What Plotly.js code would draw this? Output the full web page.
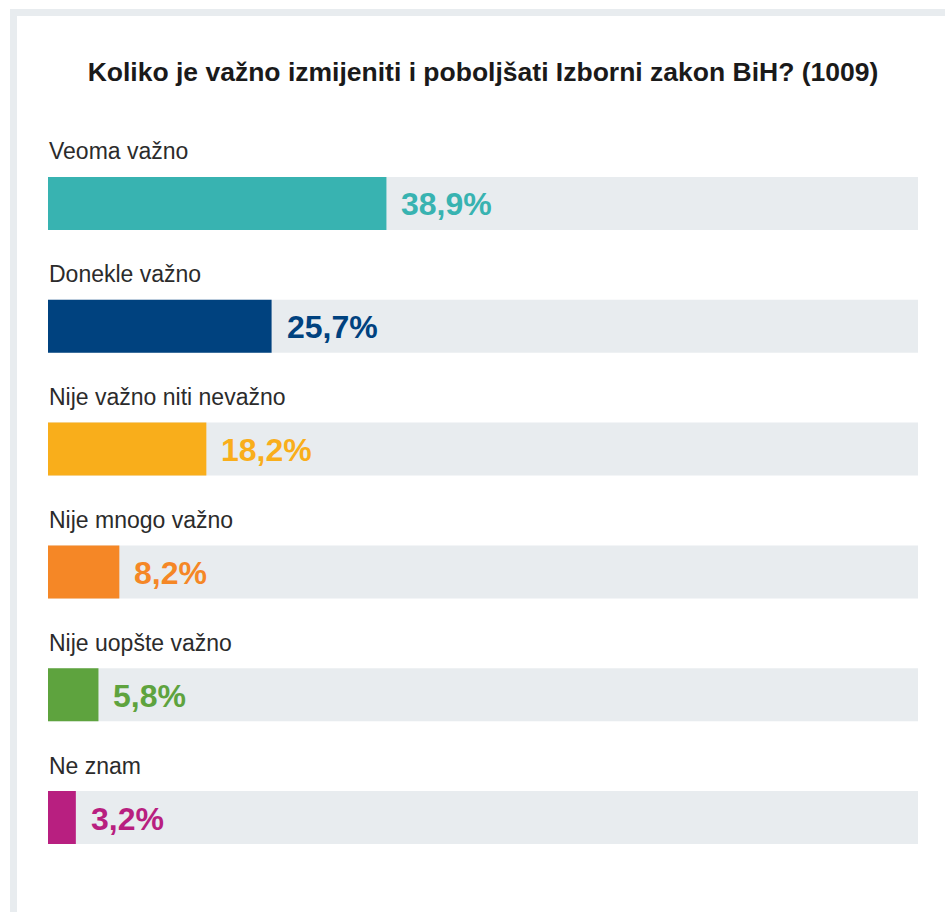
<!DOCTYPE html>
<html>
<head>
<meta charset="utf-8">
<script src="https://cdn.plot.ly/plotly-3.0.1.min.js"></script>
<style>
  html, body { margin: 0; padding: 0; background: #ffffff; }
  #frame { position: absolute; left: 10px; top: 9px; width: 935px; height: 903px;
           border-top: 7px solid #e8ecef; border-left: 7px solid #e8ecef; box-sizing: border-box; }
  #chart { position: absolute; left: 0; top: 0; width: 945px; height: 912px; }
</style>
</head>
<body>
<div id="frame"></div>
<div id="chart"></div>
<script>
const categories = ["Veoma važno", "Donekle važno", "Nije važno niti nevažno", "Nije mnogo važno", "Nije uopšte važno", "Ne znam"];
const values = [38.9, 25.7, 18.2, 8.2, 5.8, 3.2];
const valueLabels = ["38,9%", "25,7%", "18,2%", "8,2%", "5,8%", "3,2%"];
const colors = ["#38b3b1", "#00427f", "#f9ae1b", "#f58726", "#5ea33e", "#b81f80"];
const trackMax = 100;
const titleText = "Koliko je važno izmijeniti i poboljšati Izborni zakon BiH? (1009)";

const track = {
  type: "bar", orientation: "h",
  y: categories, x: categories.map(() => trackMax),
  marker: { color: "#e8ecef" }, width: 0.431,
  hoverinfo: "skip", showlegend: false
};
const bars = {
  type: "bar", orientation: "h",
  y: categories, x: values,
  marker: { color: colors }, width: 0.431,
  hoverinfo: "skip", showlegend: false
};

const annotations = [];
categories.forEach((c, i) => {
  annotations.push({
    x: 0, y: c, xref: "x", yref: "y", text: c, showarrow: false,
    xanchor: "left", yanchor: "middle", yshift: 52, xshift: -1,
    font: { family: "Liberation Sans, Arial, sans-serif", size: 23, color: "#2b2b2b" }
  });
  annotations.push({
    x: values[i], y: c, xref: "x", yref: "y", text: "<b>" + valueLabels[i] + "</b>", showarrow: false,
    xanchor: "left", yanchor: "middle", xshift: 13, yshift: -1,
    font: { family: "Liberation Sans, Arial, sans-serif", size: 32, color: colors[i] }
  });
});

const layout = {
  width: 945, height: 912,
  paper_bgcolor: "rgba(0,0,0,0)", plot_bgcolor: "rgba(0,0,0,0)",
  margin: { l: 48, r: 27, t: 141.5, b: 33 },
  barmode: "overlay",
  title: {
    text: "<b>" + titleText + "</b>",
    x: 0.5, xref: "paper", xanchor: "center",
    y: 1 - 72 / 912, yref: "container", yanchor: "middle",
    font: { family: "Liberation Sans, Arial, sans-serif", size: 26.5, color: "#1a1a1a" }
  },
  xaxis: { range: [0, trackMax], visible: false, fixedrange: true },
  yaxis: { type: "category", range: [5.5, -0.5], visible: false, fixedrange: true },
  annotations: annotations
};

Plotly.newPlot("chart", [track, bars], layout, { displayModeBar: false, staticPlot: true });
</script>
</body>
</html>
